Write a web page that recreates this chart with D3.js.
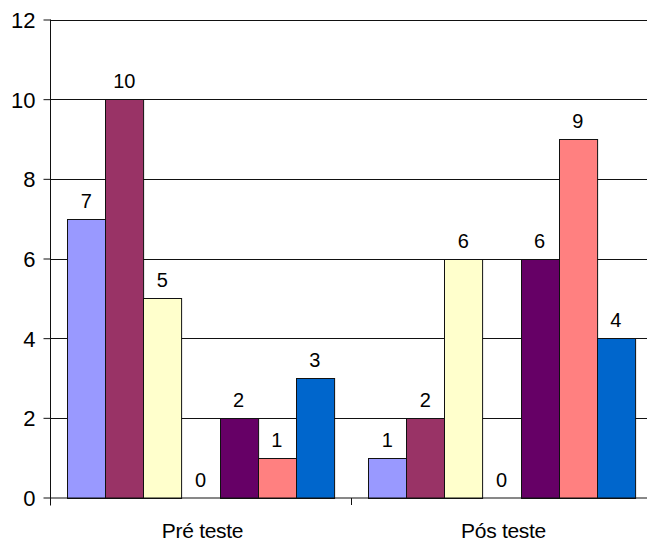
<!DOCTYPE html>
<html>
<head>
<meta charset="utf-8">
<script src="https://cdn.jsdelivr.net/npm/d3@7"></script>
<style>
  html, body { margin: 0; padding: 0; background: #fff; }
  svg { display: block; }
  text { font-family: Arial, "Liberation Sans", sans-serif; fill: #000; }
</style>
</head>
<body>
<svg id="chart" width="647" height="544"></svg>
<script>
const categories = ["Pré teste", "Pós teste"];
const series1 = [7, 1];
const series2 = [10, 2];
const series3 = [5, 6];
const series4 = [0, 0];
const series5 = [2, 6];
const series6 = [1, 9];
const series7 = [3, 4];
const seriesValues = [series1, series2, series3, series4, series5, series6, series7];
const seriesColors = ["#9999FF", "#993366", "#FFFFCC", "#CCFFFF", "#660066", "#FF8080", "#0066CC"];
const yTicks = [0, 2, 4, 6, 8, 10, 12];

(function () {
const svg = d3.select("#chart");
const pLeft = 50, pRight = 652, pTop = 19.5, pBottom = 497.5;

const x0 = d3.scaleBand().domain(categories).range([pLeft, pRight]).padding(0);
const bw = x0.bandwidth();
const x1 = d3.scaleBand().domain(d3.range(seriesValues.length)).range([bw * 0.057, bw * 0.943]).padding(0);
const y = d3.scaleLinear().domain([0, 12]).range([pBottom, pTop]);

// gridlines
svg.append("g").selectAll("line").data(yTicks.filter(t => t > 0)).join("line")
  .attr("x1", pLeft).attr("x2", pRight)
  .attr("y1", d => Math.round(y(d)) + 0.5).attr("y2", d => Math.round(y(d)) + 0.5)
  .attr("stroke", "#111").attr("stroke-width", 1);

// bars
const groups = svg.append("g").selectAll("g").data(categories).join("g")
  .attr("transform", d => `translate(${x0(d)},0)`);

groups.each(function(cat, ci) {
  const g = d3.select(this);
  const data = seriesValues.map((s, si) => ({ si, v: s[ci] }));
  g.selectAll("rect").data(data.filter(d => d.v > 0)).join("rect")
    .attr("x", d => Math.round(x1(d.si)) + 0.5)
    .attr("width", x1.bandwidth())
    .attr("y", d => Math.round(y(d.v)) + 0.5)
    .attr("height", d => Math.round(y(0)) - Math.round(y(d.v)))
    .attr("fill", d => seriesColors[d.si])
    .attr("stroke", "#111").attr("stroke-width", 1);
  g.selectAll("text").data(data).join("text")
    .attr("x", d => x1(d.si) + x1.bandwidth() / 2)
    .attr("y", d => y(d.v) - 11)
    .attr("text-anchor", "middle")
    .attr("font-size", 20)
    .text(d => d.v);
});

// y axis
const yAxis = d3.axisLeft(y).tickValues(yTicks).tickSize(7).tickPadding(8).tickFormat(d3.format("d"));
const ya = svg.append("g").attr("transform", `translate(${pLeft + 0.5},0)`).call(yAxis);
ya.select(".domain").attr("stroke", "#111").attr("d", `M0,${pTop}V${pBottom + 8}`);
ya.selectAll(".tick line").attr("stroke", "#111");
ya.selectAll(".tick text").attr("font-size", 22).attr("font-family", "Arial, 'Liberation Sans', sans-serif").attr("fill", "#000").attr("dy", "0.36em");

// x axis
const xa = svg.append("g").attr("transform", `translate(0,${pBottom + 0.5})`);
xa.append("line").attr("x1", pLeft).attr("x2", pRight).attr("y1", 0).attr("y2", 0).attr("stroke", "#111");
xa.selectAll("line.tk").data(categories.concat(["end"])).join("line").attr("class", "tk")
  .attr("x1", (d, i) => Math.round(pLeft + i * bw) + 0.5).attr("x2", (d, i) => Math.round(pLeft + i * bw) + 0.5)
  .attr("y1", 0).attr("y2", 7).attr("stroke", "#111");
xa.selectAll("text").data(categories).join("text")
  .attr("x", d => x0(d) + bw / 2 + 2)
  .attr("y", 40)
  .attr("text-anchor", "middle")
  .attr("font-size", 21)
  .attr("letter-spacing", -0.3)
  .text(d => d);
})();
</script>
</body>
</html>
